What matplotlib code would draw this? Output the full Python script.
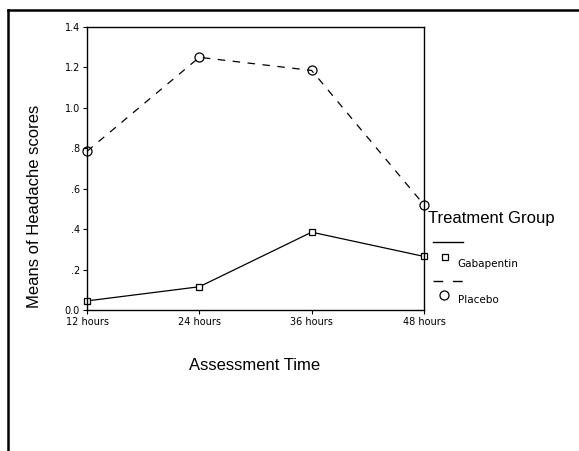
import matplotlib
matplotlib.use("Agg")
import matplotlib.pyplot as plt
from matplotlib.lines import Line2D

plt.rcParams["font.family"] = ["Liberation Sans", "DejaVu Sans"]

times = ["12 hours", "24 hours", "36 hours", "48 hours"]
gabapentin = [0.045, 0.115, 0.385, 0.265]
placebo = [0.785, 1.25, 1.185, 0.52]
y_ticks = [0.0, 0.2, 0.4, 0.6, 0.8, 1.0, 1.2, 1.4]
y_tick_labels = ["0.0", ".2", ".4", ".6", ".8", "1.0", "1.2", "1.4"]

fig = plt.figure(figsize=(5.79, 4.51), dpi=100)
ax = fig.add_axes([87 / 579, 1 - 310 / 451, 337 / 579, 283 / 451])

x = list(range(len(times)))
ax.plot(x, gabapentin, color="black", lw=0.9, marker="s", ms=5,
        mfc="white", mec="black", mew=0.9, clip_on=False)
ax.plot(x, placebo, color="black", lw=0.9, ls=(0, (6, 6)), marker="o", ms=6.5,
        mfc="none", mec="black", mew=0.9, clip_on=False)

ax.set_xlim(0, 3)
ax.set_ylim(0, 1.4)
ax.set_xticks(x)
ax.set_xticklabels(times, fontsize=7, family="Liberation Sans Narrow")
ax.set_yticks(y_ticks)
ax.set_yticklabels(y_tick_labels, fontsize=7, family="Liberation Sans Narrow")
ax.tick_params(length=3, width=0.8, pad=2)
for s in ax.spines.values():
    s.set_linewidth(1.0)

fig.text(35 / 579, 1 - 206 / 451, "Means of Headache scores", rotation=90,
         ha="center", va="center", fontsize=12)
fig.text(255 / 579, 1 - 365 / 451, "Assessment Time", ha="center",
         va="center", fontsize=12)

# legend drawn by hand, SPSS style
fig.text(428 / 579, 1 - 219 / 451, "Treatment Group", ha="left",
         va="center", fontsize=12)
fig.add_artist(Line2D([433 / 579, 463 / 579], [1 - 242 / 451] * 2,
                      color="black", lw=1.0))
fig.add_artist(Line2D([445 / 579], [1 - 257 / 451], marker="s", ms=5,
                      mfc="white", mec="black", mew=0.9))
fig.text(457 / 579, 1 - 264 / 451, "Gabapentin", ha="left", va="center",
         fontsize=7.5, family="Liberation Sans Narrow")
fig.add_artist(Line2D([433 / 579, 463 / 579], [1 - 281 / 451] * 2,
                      color="black", lw=1.0, ls=(0, (7, 7))))
fig.add_artist(Line2D([444 / 579], [1 - 295 / 451], marker="o", ms=6.5,
                      mfc="none", mec="black", mew=0.9))
fig.text(458 / 579, 1 - 300 / 451, "Placebo", ha="left", va="center",
         fontsize=7.5, family="Liberation Sans Narrow")

# outer frame (top and left only)
fig.add_artist(Line2D([8 / 579, 8 / 579], [0, 1 - 10 / 451], color="black", lw=1.8))
fig.add_artist(Line2D([8 / 579, 1], [1 - 10 / 451] * 2, color="black", lw=1.8))

fig.savefig("out.png", dpi=100)
